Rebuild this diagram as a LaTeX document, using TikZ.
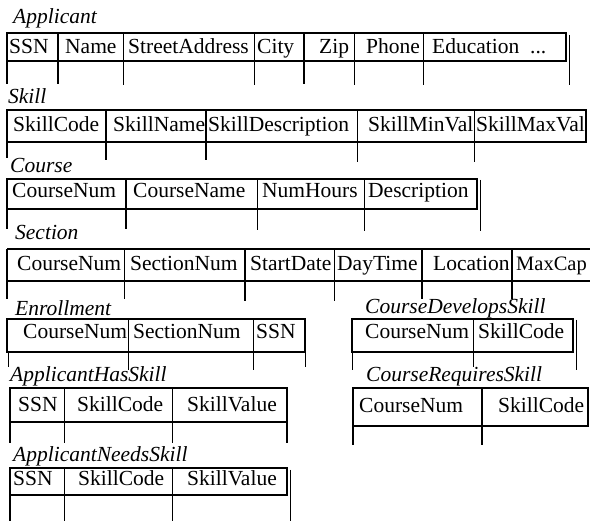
\documentclass[tikz,border=0pt]{standalone}
\usepackage{fontspec}
\setmainfont{Liberation Serif}
\begin{document}
\begin{tikzpicture}[x=1pt,y=-1pt,
  thk/.style={line width=2.3pt},
  thn/.style={line width=0.9pt},
  lbl/.style={anchor=base west,inner sep=0pt,font=\fontsize{21.5}{24}\selectfont\itshape},
  fld/.style={anchor=base west,inner sep=0pt,font=\fontsize{21.5}{24}\selectfont}]
\useasboundingbox (0,0) rectangle (590,521);
% ---------------- Applicant
\node[lbl] (appL) at (13,24) {Applicant};
\draw[thk] (7,33) rectangle (566,61);
\draw[thk] (7,33) -- (7,84) (58,33) -- (58,84) (304,33) -- (304,84);
\draw[thn] (123,33) -- (123,85) (254,33) -- (254,85) (354,33) -- (354,85) (423,33) -- (423,85) (569,35) -- (569,85);
\node[fld] (a1) at (9,54) {SSN};
\node[fld] (a2) at (65,54) {Name};
\node[fld] (a3) at (128,54) {StreetAddress};
\node[fld] (a4) at (257,54) {City};
\node[fld] (a5) at (319,54) {Zip};
\node[fld] (a6) at (366,54) {Phone};
\node[fld] (a7) at (432,54) {Education\ \ ...};
% ---------------- Skill
\node[lbl] (skL) at (8,104) {Skill};
\draw[thk] (7,110) rectangle (586,142);
\draw[thk] (7,110) -- (7,158) (106,110) -- (106,160) (206,110) -- (206,160);
\draw[thn] (357,110) -- (357,162) (474,110) -- (474,162);
\node[fld] (s1) at (13,132) {SkillCode};
\node[fld] (s2) at (113,132) {SkillName};
\node[fld] (s3) at (208,132) {SkillDescription};
\node[fld] (s4) at (368,132) {SkillMinVal};
\node[fld] (s5) at (476,132) {SkillMaxVal};
% ---------------- Course
\node[lbl] (coL) at (10,173) {Course};
\draw[thk] (7,179) rectangle (477,209);
\draw[thk] (7,179) -- (7,229) (126,179) -- (126,229);
\draw[thn] (257,179) -- (257,230) (364,179) -- (364,231) (480,180) -- (480,231);
\node[fld] (c1) at (12,198) {CourseNum};
\node[fld] (c2) at (133,198) {CourseName};
\node[fld] (c3) at (262,198) {NumHours};
\node[fld] (c4) at (368,198) {Description};
% ---------------- Section
\node[lbl] (seL) at (15,240) {Section};
\draw[thk] (7,249) -- (590,249) (7,281) -- (590,281);
\draw[line width=1.4pt] (7,249) -- (7,299);
\draw[thn] (124,249) -- (124,299) (334,249) -- (334,301);
\draw[thk] (245,249) -- (245,301) (422,249) -- (422,299) (512,249) -- (512,299);
\node[fld] (e1) at (17,271) {CourseNum};
\node[fld] (e2) at (130,271) {SectionNum};
\node[fld] (e3) at (250,271) {StartDate};
\node[fld] (e4) at (337,271) {DayTime};
\node[fld] (e5) at (433,271) {Location};
\node[fld,font=\fontsize{20.5}{24}\selectfont] (e6) at (516,271) {MaxCap};
% ---------------- Enrollment
\node[lbl] (enL) at (15,316) {Enrollment};
\draw[thk] (7,319) rectangle (305,352);
\draw[thn] (8,352) -- (8,367) (128,319) -- (128,370) (253,319) -- (253,370) (305,352) -- (305,367);
\node[fld] (n1) at (23,339) {CourseNum};
\node[fld] (n2) at (133,339) {SectionNum};
\node[fld] (n3) at (256,339) {SSN};
% ---------------- CourseDevelopsSkill
\node[lbl] (cdL) at (365,314) {CourseDevelopsSkill};
\draw[thk] (352,319) rectangle (573,352);
\draw[thn] (352,352) -- (352,370) (473,319) -- (473,367) (576,320) -- (576,370);
\node[fld] (d1) at (365,339) {CourseNum};
\node[fld] (d2) at (478,339) {SkillCode};
% ---------------- ApplicantHasSkill
\node[lbl] (ahL) at (10,382) {ApplicantHasSkill};
\draw[thk] (10,388) rectangle (287,422);
\draw[thk] (10,388) -- (10,443) (287,388) -- (287,443);
\draw[thn] (64,388) -- (64,443) (172,388) -- (172,443);
\node[fld] (h1) at (18,412) {SSN};
\node[fld] (h2) at (77,412) {SkillCode};
\node[fld] (h3) at (187,412) {SkillValue};
% ---------------- CourseRequiresSkill
\node[lbl] (crL) at (366,382) {CourseRequiresSkill};
\draw[thk] (353,388) rectangle (588,426);
\draw[thk] (353,388) -- (353,445);
\draw[line width=1.6pt] (482,388) -- (482,445);
\node[fld] (r1) at (359,413) {CourseNum};
\node[fld] (r2) at (498,413) {SkillCode};
% ---------------- ApplicantNeedsSkill
\node[lbl] (anL) at (13,462) {ApplicantNeedsSkill};
\draw[thk] (10,468) rectangle (287,495);
\draw[thk] (10,468) -- (10,521);
\draw[thn] (64,468) -- (64,521) (172,468) -- (172,521) (290,470) -- (290,521);
\node[fld] (m1) at (13,486) {SSN};
\node[fld] (m2) at (78,486) {SkillCode};
\node[fld] (m3) at (187,486) {SkillValue};
\end{tikzpicture}
\end{document}
